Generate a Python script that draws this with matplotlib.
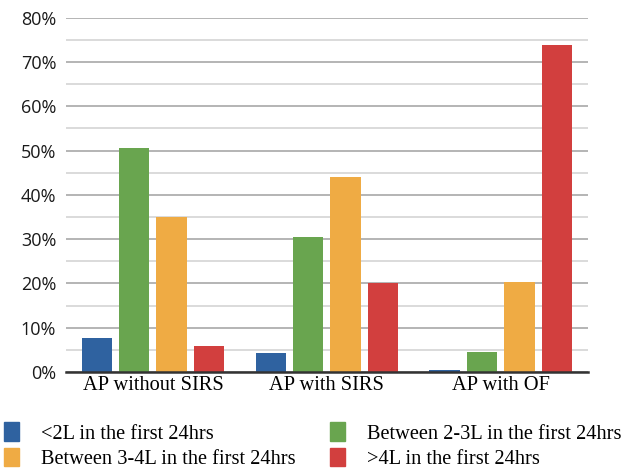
import matplotlib
matplotlib.use("Agg")
import matplotlib.pyplot as plt
import numpy as np
from matplotlib.ticker import MultipleLocator, FuncFormatter
from matplotlib.patches import Patch

categories = ["AP without SIRS", "AP with SIRS", "AP with OF"]
series_names = ["<2L in the first 24hrs", "Between 2-3L in the first 24hrs",
                "Between 3-4L in the first 24hrs", ">4L in the first 24hrs"]
lt2 = [0.077, 0.043, 0.005]
b23 = [0.506, 0.305, 0.045]
b34 = [0.350, 0.441, 0.203]
gt4 = [0.059, 0.201, 0.738]
colors = ["#2f62a0", "#69a54f", "#efab44", "#d23f3e"]

fig = plt.figure(figsize=(6.34, 4.68), dpi=100)
ax = fig.add_axes([0.104, 0.205, 0.823, 0.757])

x = np.arange(len(categories))
w = 0.175
step = 0.215
offsets = [-1.5 * step, -0.5 * step, 0.5 * step, 1.5 * step]
for vals, off, c, name in zip([lt2, b23, b34, gt4], offsets, colors, series_names):
    ax.bar(x + off, vals, width=w, color=c, label=name, zorder=3)

ax.set_xlim(-0.5, 2.5)
ax.set_ylim(0, 0.8)
ax.yaxis.set_major_locator(MultipleLocator(0.1))
ax.yaxis.set_minor_locator(MultipleLocator(0.05))
ax.yaxis.set_major_formatter(FuncFormatter(lambda v, p: f"{v*100:.0f}%"))
ax.grid(axis="y", which="major", color="#b4b4b4", linewidth=1.4, zorder=0)
ax.grid(axis="y", which="minor", color="#d4d4d4", linewidth=1.2, zorder=0)
ax.set_axisbelow(True)
for s in ["top", "right", "left"]:
    ax.spines[s].set_visible(False)
ax.spines["bottom"].set_color("#333333")
ax.spines["bottom"].set_linewidth(1.8)
ax.spines["bottom"].set_zorder(4)
ax.tick_params(axis="both", which="both", length=0)
ax.tick_params(axis="y", pad=7)
ax.set_xticks(x)
ax.set_xticklabels(categories, family="Liberation Serif", fontsize=14.7)
ax.tick_params(axis="x", pad=3)
for lbl in ax.get_yticklabels():
    lbl.set_family("Open Sans")
    lbl.set_fontsize(13)
    lbl.set_color("#1a1a1a")

order = [0, 2, 1, 3]
handles = [Patch(color=colors[i]) for i in order]
labels = [series_names[i] for i in order]
fig.legend(handles, labels, ncol=2, loc="upper left", bbox_to_anchor=(0.0, 0.106),
           frameon=False, prop={"family": "Liberation Serif", "size": 14.7},
           handlelength=0.75, handleheight=1.0, handletextpad=1.05,
           columnspacing=1.7, labelspacing=0.22, borderaxespad=0, borderpad=0.2)

fig.savefig("out.png", dpi=100)
